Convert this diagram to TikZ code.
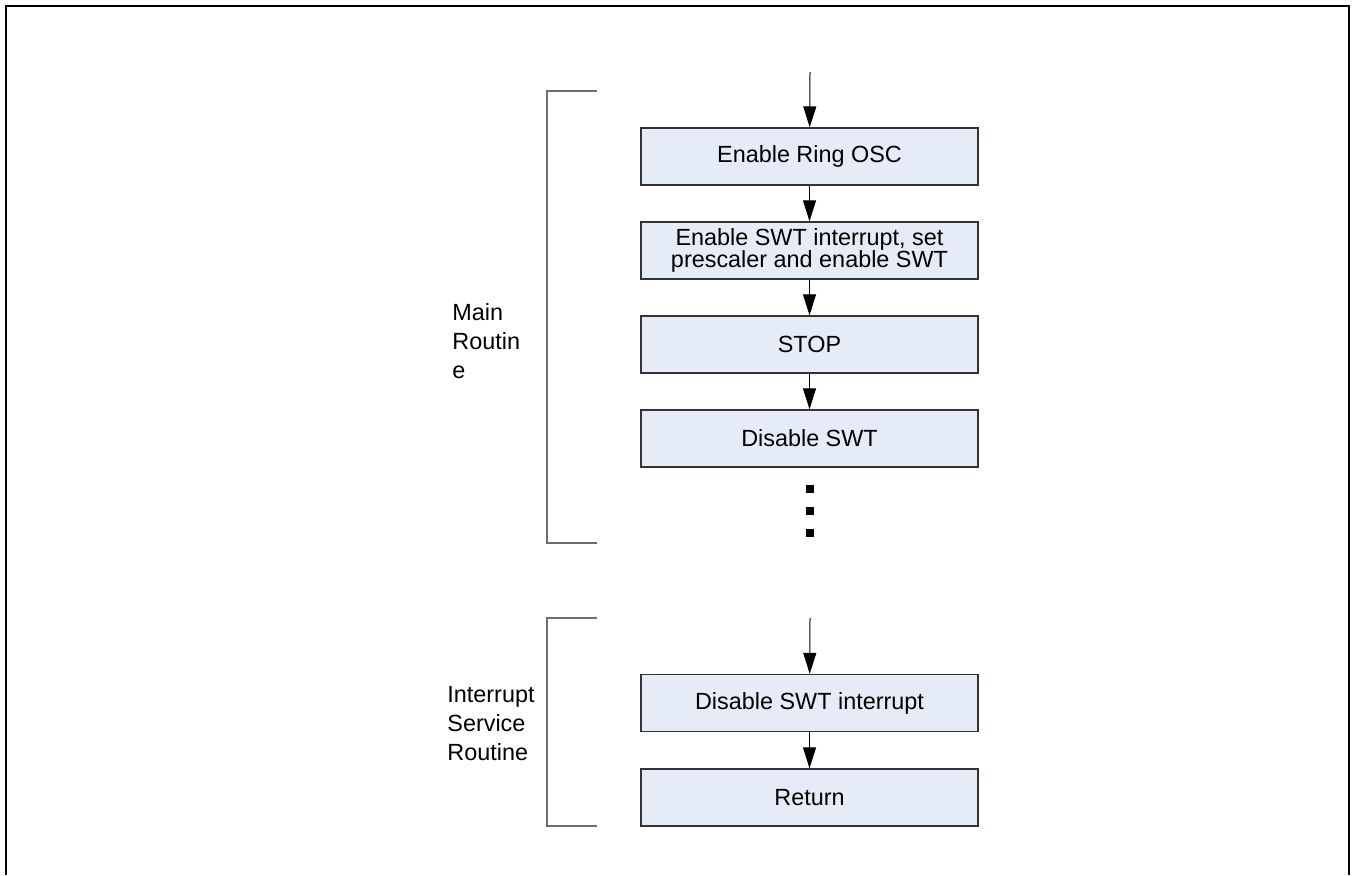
\documentclass[tikz,border=0pt]{standalone}
\usepackage{fontspec}
\setmainfont{Liberation Sans}
\usetikzlibrary{arrows.meta,positioning}
\definecolor{boxfill}{HTML}{E6ECF7}
\definecolor{boxline}{HTML}{333333}
\definecolor{brgray}{HTML}{6E6E6E}

\begin{document}
\begin{tikzpicture}[
  x=0.5pt,y=-0.5pt,
  sbox/.style={draw=boxline,line width=0.7pt,fill=boxfill,minimum width=168.5pt,
               minimum height=28.5pt,inner sep=0pt,align=center,
               font=\fontsize{11.7}{11}\selectfont},
  lbl/.style={anchor=north west,inner sep=0pt,align=left,
              font=\fontsize{11.7}{14.5}\selectfont},
  dot/.style={fill=black,minimum size=3.8pt,inner sep=0pt},
  bracket/.style={draw=brgray,line width=0.7pt},
  arr/.style={-{Triangle[length=10.5pt,width=6.5pt]},line width=0.5pt,black}]
\useasboundingbox (0,0) rectangle (1352,875);
\draw[line width=1pt] (6,875) -- (6,6) -- (1349,6) -- (1349,875);
\coordinate (mstart) at (810,72);
\node[sbox] (ring)  at (809.5,156.5) {Enable Ring OSC};
\node[sbox] (swt)   at (809.5,250.5) {Enable SWT interrupt, set\\prescaler and enable SWT};
\node[sbox] (stop)  at (809.5,344.5) {STOP};
\node[sbox] (dis)   at (809.5,438.5) {Disable SWT};
\node[dot]  (d1)    at (810,489) {};
\node[dot]  (d2)    at (810,511) {};
\node[dot]  (d3)    at (810,533) {};
\coordinate (istart) at (810,618);
\node[sbox] (disint) at (809.5,703) {Disable SWT interrupt};
\node[sbox] (ret)    at (809.5,797.5) {Return};
\draw[arr] (mstart)--(ring);
\draw[arr] (ring)--(swt);
\draw[arr] (swt)--(stop);
\draw[arr] (stop)--(dis);
\draw[arr] (istart)--(disint);
\draw[arr] (disint)--(ret);
\draw[bracket] (597,91) -- (547,91) -- (547,543) -- (597,543);
\draw[bracket] (597,618) -- (547,618) -- (547,826) -- (597,826);
\node[lbl] (mainlbl) at (452,303) {Main\\Routin\\e};
\node[lbl] (isrlbl)  at (447,686) {Interrupt\\Service\\Routine};
\end{tikzpicture}
\end{document}
